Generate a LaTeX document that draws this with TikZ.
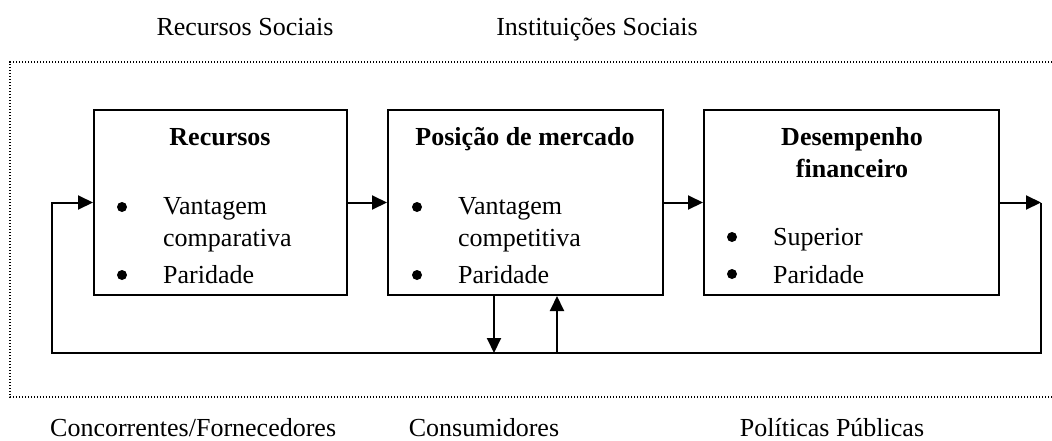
\documentclass[tikz,border=0pt]{standalone}
\usepackage{fontspec}
\setmainfont{Liberation Serif}
\usetikzlibrary{arrows.meta}
\tikzset{
  box/.style={draw, line width=2pt, minimum height=185pt, inner sep=0pt},
  flow/.style={line width=2pt, -{Triangle[length=15pt,width=14pt]}},
  plain/.style={line width=2pt},
  frame/.style={line width=1.3pt, dash pattern=on 1.4pt off 1.6pt},
  txt/.style={inner sep=0pt, anchor=base west},
  ttl/.style={inner sep=0pt, anchor=base, font=\bfseries},
  lbl/.style={inner sep=0pt, anchor=base},
  dot/.style={circle, fill=black, inner sep=0pt, minimum size=10pt},
}
\begin{document}
\begin{tikzpicture}[x=1pt,y=-1pt]
\fontsize{26}{30}\selectfont
\useasboundingbox (0,0) rectangle (1052,440);
% outer dotted frame
\coordinate (f1) at (1052,62);
\coordinate (f2) at (10,62);
\coordinate (f3) at (10,397);
\coordinate (f4) at (1052,397);
\draw[frame] (f1) -- (f2) -- (f3) -- (f4);
% boxes
\node[box, minimum width=253pt] (b1) at (220.5,202.5) {};
\node[box, minimum width=275pt] (b2) at (525.5,202.5) {};
\node[box, minimum width=295pt] (b3) at (851.5,202.5) {};
% box 1 text
\node[ttl] (t1) at (220,145) {Recursos};
\node[dot] (b1a) at (122,207) {};
\node[txt] (v1) at (163,214) {Vantagem};
\node[txt] (c1) at (163,246) {comparativa};
\node[dot] (b1b) at (122,275) {};
\node[txt] (p1) at (163,283) {Paridade};
% box 2 text
\node[ttl] (t2) at (525,145) {Posição de mercado};
\node[dot] (b2a) at (417,207) {};
\node[txt] (v2) at (458,214) {Vantagem};
\node[txt] (c2) at (458,246) {competitiva};
\node[dot] (b2b) at (417,275) {};
\node[txt] (p2) at (458,283) {Paridade};
% box 3 text
\node[ttl] (t3a) at (852,145) {Desempenho};
\node[ttl] (t3b) at (852,177) {financeiro};
\node[dot] (b3a) at (732,237) {};
\node[txt] (s3) at (773,245) {Superior};
\node[dot] (b3b) at (732,274) {};
\node[txt] (p3) at (773,283) {Paridade};
% outer labels
\node[lbl] (rs) at (245,35) {Recursos Sociais};
\node[lbl] (is) at (597,35) {Instituições Sociais};
\node[txt] (cf) at (50,436) {Concorrentes/Fornecedores};
\node[lbl] (cs) at (484,436) {Consumidores};
\node[lbl] (pp) at (832,436) {Políticas Públicas};
% connectors
\draw[flow] (b1.east) -- (b2.west);
\draw[flow] (b2.east) -- (b3.west);
\coordinate (R) at (1041,202.5);
\coordinate (BR) at (1041,353);
\coordinate (BL) at (52,353);
\coordinate (L) at (52,202.5);
\draw[flow] (b3.east) -- (R);
\draw[plain, line join=miter] (R) -- (BR) -- (BL) -- (L);
\draw[flow] ([xshift=-1pt]L) -- (b1.west);
\coordinate (D) at (494,353);
\coordinate (U) at (557,353);
\draw[flow] (D |- b2.south) -- (D);
\draw[flow] (U) -- (U |- b2.south);
\end{tikzpicture}
\end{document}
